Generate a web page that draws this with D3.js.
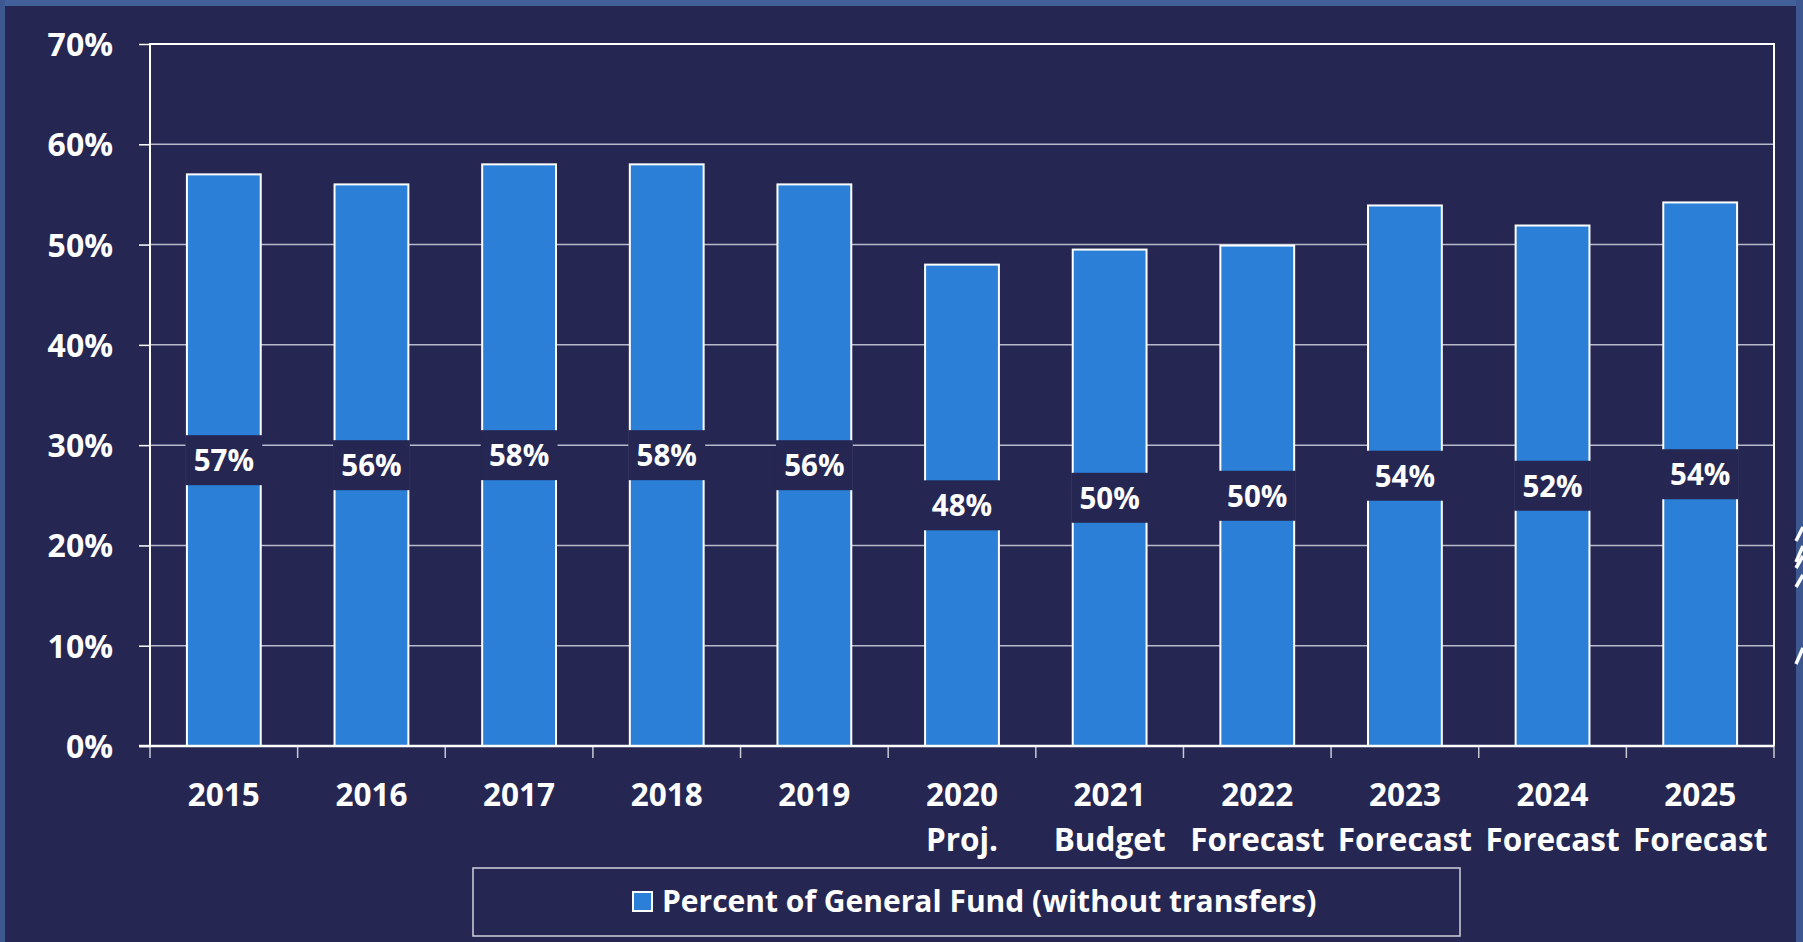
<!DOCTYPE html>
<html>
<head>
<meta charset="utf-8">
<script src="https://cdn.jsdelivr.net/npm/d3@7"></script>
<style>
  html, body { margin: 0; padding: 0; background: #252752; overflow: hidden; }
  svg { display: block; font-family: "Open Sans", "Noto Sans", sans-serif; font-weight: 700; }
</style>
</head>
<body>
<div id="chart"></div>
<script>
// chart values
const years = ["2015", "2016", "2017", "2018", "2019", "2020", "2021", "2022", "2023", "2024", "2025"]
const subLabels = ["", "", "", "", "", "Proj.", "Budget", "Forecast", "Forecast", "Forecast", "Forecast"]
const values = [0.57, 0.56, 0.58, 0.58, 0.56, 0.48, 0.495, 0.499, 0.539, 0.519, 0.542]
const yTicks = [0, 0.1, 0.2, 0.3, 0.4, 0.5, 0.6, 0.7]
const seriesName = "Percent of General Fund (without transfers)"

const bg = "#252752"
const barColor = "#2b7fd6"
const frameColor = "#42609a"

var width = 1803
var height = 942

var plot = { left: 150, right: 1774, top: 44, bottom: 746 }

var svg = d3.select("#chart")
            .append("svg")
            .attr("width", width)
            .attr("height", height)

svg.append("rect").attr("width", width).attr("height", height).attr("fill", bg)

// slide frame (top, left, right)
svg.append("rect").attr("x", 0).attr("y", 0).attr("width", width).attr("height", 6).attr("fill", frameColor)
svg.append("rect").attr("x", 0).attr("y", 0).attr("width", 5).attr("height", height).attr("fill", "#3d5891")
svg.append("rect").attr("x", 1796).attr("y", 0).attr("width", 7).attr("height", height).attr("fill", "#3d5891")

// little white slashes of the slide decoration at the right edge
var slashes = [[527, 14], [546, 16], [556, 12], [575, 12], [648, 16]]
svg.append("g")
    .selectAll("path")
    .data(slashes)
    .enter()
    .append("path")
    .attr("d", d => "M1796," + (d[0] + d[1]) + " L1803," + d[0])
    .attr("stroke", "white")
    .attr("stroke-width", 3.5)

var x = d3.scaleBand()
          .domain(years)
          .range([plot.left, plot.right])
          .paddingInner(0.5)
          .paddingOuter(0.25)

var y = d3.scaleLinear()
          .domain([0, 0.7])
          .range([plot.bottom, plot.top])

// gridlines
svg.append("g")
    .selectAll("line")
    .data(yTicks.slice(1, -1))
    .enter()
    .append("line")
    .attr("x1", plot.left)
    .attr("x2", plot.right)
    .attr("y1", d => y(d))
    .attr("y2", d => y(d))
    .attr("stroke", "#b8bacb")
    .attr("stroke-width", 1.5)

// plot frame: top, left and right in white
svg.append("path")
    .attr("d", "M" + plot.left + "," + plot.bottom + " V" + plot.top + " H" + plot.right + " V" + plot.bottom)
    .attr("fill", "none")
    .attr("stroke", "white")
    .attr("stroke-width", 2)

// y axis
var yAxis = d3.axisLeft(y)
              .tickValues(yTicks)
              .tickFormat(d3.format(".0%"))
              .tickSize(11)
              .tickPadding(26)

var yg = svg.append("g")
            .attr("transform", "translate(" + plot.left + ",0)")
            .call(yAxis)
yg.select(".domain").remove()
yg.selectAll(".tick line").attr("stroke", "white").attr("stroke-width", 1.5)
yg.selectAll(".tick text")
    .attr("fill", "white")
    .attr("font-size", 32)
    .attr("font-family", "'Open Sans', sans-serif")
    .attr("font-weight", 700)
    .attr("dy", "0.36em")

// bars
svg.append("g")
    .selectAll("rect")
    .data(values)
    .enter()
    .append("rect")
    .attr("x", (d, i) => x(years[i]))
    .attr("y", d => y(d))
    .attr("width", x.bandwidth())
    .attr("height", d => y(0) - y(d))
    .attr("fill", barColor)
    .attr("stroke", "white")
    .attr("stroke-width", 2)

// bottom axis line and the category ticks
var boundaries = d3.range(years.length + 1).map(i => plot.left + i * x.step())
svg.append("g")
    .selectAll("line")
    .data(boundaries)
    .enter()
    .append("line")
    .attr("x1", d => d)
    .attr("x2", d => d)
    .attr("y1", plot.bottom)
    .attr("y2", plot.bottom + 12)
    .attr("stroke", "#c8c9d4")
    .attr("stroke-width", 1.5)

svg.append("line")
    .attr("x1", plot.left - 11)
    .attr("x2", plot.right)
    .attr("y1", plot.bottom)
    .attr("y2", plot.bottom)
    .attr("stroke", "white")
    .attr("stroke-width", 2.5)

// x labels, two lines
var xl = svg.append("g")
            .selectAll("text")
            .data(years)
            .enter()
            .append("text")
            .attr("text-anchor", "middle")
            .attr("fill", "white")
            .attr("font-size", 31.5)

xl.append("tspan")
    .attr("x", d => x(d) + x.bandwidth() / 2)
    .attr("y", 806)
    .text(d => d)

xl.append("tspan")
    .attr("x", d => x(d) + x.bandwidth() / 2)
    .attr("y", 851)
    .text((d, i) => subLabels[i])

// value labels on a dark box at mid height of each bar
var labels = svg.append("g")
                .selectAll("g")
                .data(values)
                .enter()
                .append("g")
                .attr("transform", (d, i) => "translate(" + (x(years[i]) + x.bandwidth() / 2) + "," + y(d / 2) + ")")

labels.append("rect")
    .attr("x", -x.bandwidth() / 2 - 1.5)
    .attr("y", -25)
    .attr("width", x.bandwidth() + 3)
    .attr("height", 50)
    .attr("fill", bg)

labels.append("text")
    .attr("text-anchor", "middle")
    .attr("dy", "0.37em")
    .attr("fill", "white")
    .attr("font-size", 29.5)
    .text(d => d3.format(".0%")(d))

// legend
var legend = svg.append("g")

legend.append("rect")
    .attr("x", 473)
    .attr("y", 868)
    .attr("width", 987)
    .attr("height", 68)
    .attr("fill", bg)
    .attr("stroke", "#d0d1dc")
    .attr("stroke-width", 1.5)

legend.append("rect")
    .attr("x", 633)
    .attr("y", 892)
    .attr("width", 19)
    .attr("height", 19)
    .attr("fill", barColor)
    .attr("stroke", "white")
    .attr("stroke-width", 2)

legend.append("text")
    .attr("x", 662)
    .attr("y", 912)
    .attr("fill", "white")
    .attr("font-size", 30)
    .text(seriesName)
</script>
</body>
</html>
